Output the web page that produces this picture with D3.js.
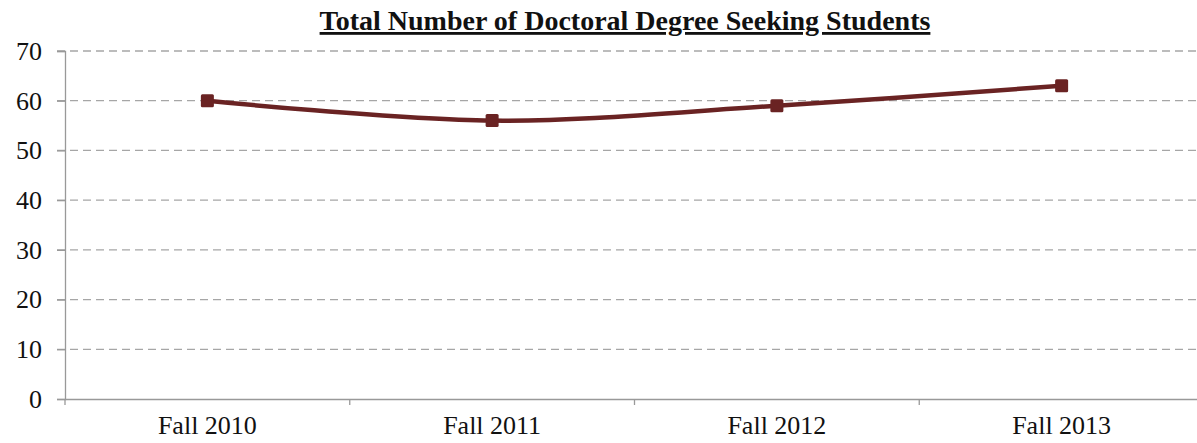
<html>
<head>
<meta charset="utf-8">
<title>Total Number of Doctoral Degree Seeking Students</title>
<script src="https://d3js.org/d3.v7.min.js"></script>
<style>
body { margin: 0; background: #fff; }
text { font-family: "Liberation Serif", "Times New Roman", serif; fill: #111; }
</style>
</head>
<body>
<svg width="1197" height="443"></svg>
<script>
var categories = ["Fall 2010", "Fall 2011", "Fall 2012", "Fall 2013"];
var students = [60, 56, 59, 63];
var yTicks = [0, 10, 20, 30, 40, 50, 60, 70];
var chartTitle = "Total Number of Doctoral Degree Seeking Students";

var svg = d3.select("svg"),
    margin = {top: 51, right: -7, bottom: 44, left: 65},
    width = +svg.attr("width") - margin.left - margin.right,
    height = +svg.attr("height") - margin.top - margin.bottom,
    g = svg.append("g").attr("transform", `translate(${margin.left},${margin.top})`);

var x = d3.scaleBand().domain(categories).range([0, width]).padding(0);
var y = d3.scaleLinear().domain([0, 70]).range([height, 0]);

// gridlines
g.selectAll(".grid")
    .data(yTicks.filter(d => d > 0))
    .enter().append("line")
    .attr("x1", -8).attr("x2", width)
    .attr("y1", d => y(d)).attr("y2", d => y(d))
    .attr("stroke", "#a6a6a6")
    .attr("stroke-width", 1.3)
    .attr("stroke-dasharray", "8,5");

// y axis
var yAxis = g.append("g")
    .call(d3.axisLeft(y).tickValues(yTicks).tickSize(8).tickPadding(15));
yAxis.select(".domain").attr("stroke", "#999").attr("stroke-width", 1.3);
yAxis.selectAll(".tick line").attr("stroke", "#999").attr("stroke-width", 1.3);
yAxis.selectAll(".tick text")
    .style("font-family", "'Liberation Serif', serif")
    .style("font-size", "26px")
    .attr("fill", "#111");

// x axis
var xAxis = g.append("g")
    .attr("transform", `translate(0,${height})`)
    .call(d3.axisBottom(x).tickSize(0).tickPadding(17));
xAxis.select(".domain").attr("stroke", "#999").attr("stroke-width", 1.3);
xAxis.selectAll(".tick text")
    .style("font-family", "'Liberation Serif', serif")
    .style("font-size", "26px")
    .attr("fill", "#111");
xAxis.selectAll(".boundary")
    .data(categories)
    .enter().append("line")
    .attr("x1", d => x(d)).attr("x2", d => x(d))
    .attr("y1", 0).attr("y2", 6)
    .attr("stroke", "#999").attr("stroke-width", 1.3);

// line
var pts = categories.map((c, i) => [x(c) + x.bandwidth() / 2, y(students[i])]);
g.append("path")
    .datum(pts)
    .attr("fill", "none")
    .attr("stroke", "#6a2323")
    .attr("stroke-width", 4.5)
    .attr("d", d3.line().curve(d3.curveCatmullRom.alpha(0.5)));

g.selectAll(".marker")
    .data(pts)
    .enter().append("rect")
    .attr("x", d => d[0] - 6.5).attr("y", d => d[1] - 6.5)
    .attr("width", 13).attr("height", 13)
    .attr("rx", 1.5)
    .attr("fill", "#6a2323");

// title
svg.append("text")
    .attr("x", 625).attr("y", 30)
    .attr("text-anchor", "middle")
    .style("font-size", "28px")
    .style("font-weight", "bold")
    .style("text-decoration", "underline")
    .text(chartTitle);
</script>
</body>
</html>
